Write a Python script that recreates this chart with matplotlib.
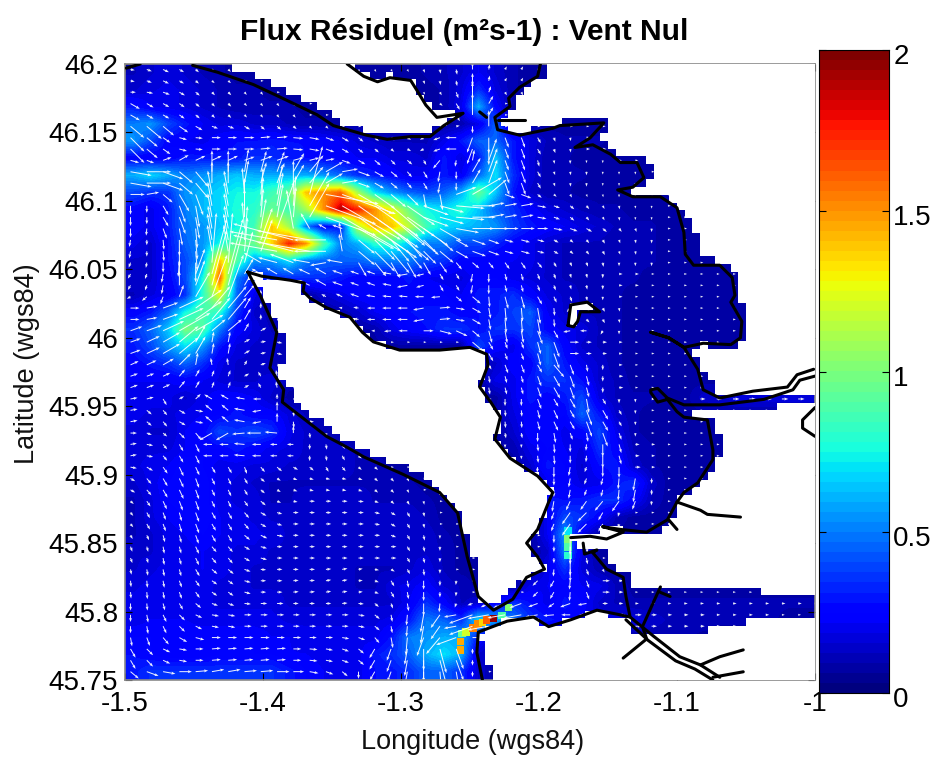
import numpy as np
import matplotlib
matplotlib.use('Agg')
import matplotlib.pyplot as plt
from matplotlib.path import Path
from matplotlib.transforms import ScaledTranslation

plt.rcParams['font.family'] = ['Liberation Sans', 'DejaVu Sans']

# flux on a regular grid, in hundredths, north to south (8 = land, hidden)
FLUX = [
    [12,15,18,15,12,10,8,8,8,8,8,8,8,8,8,8,8,10,12,15,22,15,10,8,8],
    [15,18,20,18,15,12,10,10,8,8,8,8,8,8,8,8,8,8,10,18,35,18,10,8],
    [30,22,20,18,15,12,10,10,10,10,8,8,8,8,8,8,8,8,10,20,60,25,8],
    [50,55,40,30,22,18,18,15,15,12,10,10,8,8,8,8,8,8,8,10,20,45,8],
    [55,40,25,22,20,25,28,28,30,28,28,25,22,18,15,12,12,12,20,30,45,45,30,18,12,10,10,10],
    [25,22,25,30,30,30,30,35,35,30,28,25,25,22,22,18,18,15,30,18,30,65,30,18,10,10],
    [60,68,60,50,55,60,65,60,60,60,60,55,45,35,30,25,20,22,30,22,45,70,35,18,10,10,10],
    [40,35,35,55,62,68,75,75,85,95,140,150,160,110,70,55,45,40,45,60,95,65,30,15,10,10],
    [25,20,30,50,62,68,78,80,95,85,110,150,190,175,150,125,95,75,70,80,65,45,35,25,18,15,12,10,10],
    [25,20,30,48,55,65,75,85,140,110,50,25,30,115,145,140,115,85,70,65,60,55,38,30,25,22,18,15,12,10,10],
    [20,15,28,45,55,75,95,95,135,175,150,90,50,60,80,80,65,50,50,40,40,32,25,20,15,12,12,12,10,10,10],
    [15,15,28,40,55,140,90,55,55,70,50,45,45,45,50,50,50,40,35,25,25,22,22,20,15,12,12,12,10,10,10],
    [15,15,25,40,75,160,50,30,35,35,35,35,30,25,25,25,30,22,20,18,25,25,20,18,15,12,12,12,10,10],
    [12,18,22,35,80,125,45,20,10,10,8,15,20,25,25,25,25,25,25,22,30,30,35,25,18,15,12,10,10],
    [25,30,45,75,90,80,35,15,10,8,8,8,10,15,22,25,28,30,30,25,28,30,38,45,22,15,12,12,10],
    [35,45,65,100,90,50,25,18,12,8,8,8,8,8,10,20,25,28,35,35,28,35,35,40,25,20,18,12,10],
    [30,40,55,70,55,30,18,15,15,10,8,8,8,8,8,8,8,8,8,8,40,25,20,35,45,25,15,12,10],
    [25,30,35,45,35,20,15,15,12,10,8,8,8,8,8,8,8,8,8,8,8,15,25,25,45,30,20,15,10],
    [22,22,22,25,22,18,15,15,18,12,8,8,8,8,8,8,8,8,8,8,8,20,20,30,35,35,28,15,12,8,8,8],
    [20,20,20,15,20,25,25,22,15,8,8,8,8,8,8,8,8,8,8,8,8,8,20,30,25,30,40,18,12,10,10,8,8,14,15,18,18,18,18,18],
    [20,18,18,20,22,25,30,25,25,18,12,8,8,8,8,8,8,8,8,8,8,10,18,25,28,25,45,30,15,10],
    [18,15,15,22,25,40,35,40,35,20,15,12,8,8,8,8,8,8,8,8,8,8,15,25,28,20,25,40,20,10],
    [18,18,18,22,25,25,30,25,20,18,15,15,15,12,8,8,8,8,8,8,8,8,10,20,25,22,18,35,25,12,10],
    [18,20,22,28,25,20,20,18,18,15,15,15,15,12,12,8,8,8,8,8,8,8,8,15,30,25,15,28,30,15,10],
    [15,20,25,28,28,20,18,15,12,12,12,12,12,12,12,12,10,8,8,8,8,8,8,8,20,25,18,20,30,35,15],
    [12,18,25,28,28,20,18,18,12,12,15,15,15,15,12,12,12,10,8,8,8,8,8,8,30,28,30,35,35,25,12],
    [12,18,22,25,28,22,20,18,15,15,15,15,15,15,15,15,15,12,8,8,8,8,8,8,22,40,35,25,12],
    [12,15,20,22,25,22,20,20,18,15,15,15,15,15,15,15,15,15,10,8,8,8,8,8,22,55,20,8],
    [15,15,20,20,22,20,18,18,15,15,15,15,15,15,15,15,15,15,12,8,8,8,8,8,15,50,18,8],
    [15,18,20,20,22,20,18,15,15,15,15,15,15,12,12,12,15,18,12,8,8,8,8,8,20,35,18,10],
    [18,20,20,20,20,18,18,15,15,15,15,15,15,12,12,18,20,25,15,12,8,8,8,20,22,25,22,20,12,8],
    [20,20,20,20,20,18,18,18,18,15,15,15,15,15,15,15,22,35,25,12,15,25,35,28,20,30,25,15,12,10,10,10,10,10,10,10,10,10,10,10],
    [20,22,22,22,20,20,20,20,20,18,18,18,18,18,18,20,30,50,45,35,70,60,50,35,30,25,20,18,18,18,15,12,12,12,10,10,10,10],
    [25,25,25,25,25,25,25,25,22,22,20,20,20,20,20,30,50,55,60,60,30,8,8,8,8,8,8,8,10,10,10,10,10,8],
    [28,25,22,22,22,25,25,25,25,22,22,20,20,20,30,35,45,60,70,60,15],
    [30,35,35,35,35,35,35,35,35,30,25,22,20,20,28,30,35,45,45,35,15],
]

# arrow direction for the same grid, degrees anticlockwise from east
HEADING = [
    [350,340,335,330,320,320,0,0,0,0,0,0,0,300,300,300,300,290,280,280,90,80,60],
    [0,350,340,330,320,315,310,310,0,0,0,0,0,0,0,0,0,300,300,290,90,70,300],
    [330,330,330,325,320,315,315,310,310,310,0,0,0,0,0,0,0,0,320,300,90,60],
    [320,320,320,325,330,340,330,320,320,320,315,315,0,0,0,0,0,0,0,10,270,90],
    [315,320,325,345,355,0,0,5,5,355,350,340,330,320,320,320,330,210,200,180,250,270,290,300,290,280],
    [345,340,20,30,25,25,20,20,20,15,15,10,340,330,320,315,320,300,230,260,80,70,290,285,280,270,270,270],
    [350,0,340,320,310,90,80,75,70,60,50,30,10,340,330,320,310,300,260,270,60,70,290,300,290,280,270,270,270,270],
    [0,10,320,300,290,100,95,85,80,90,75,350,340,330,325,320,315,280,280,20,30,40,340,320,320,300,290,280,270,270],
    [270,270,300,290,280,100,90,85,80,85,60,340,330,325,325,320,325,340,345,355,0,10,10,350,340,320,310,300,280,270,270],
    [270,265,290,280,275,100,95,80,70,100,120,150,160,330,325,320,320,325,330,350,0,0,0,0,350,340,330,320,310,290,270],
    [260,270,275,270,275,100,85,70,170,165,170,180,100,320,315,310,310,315,320,330,340,340,345,345,330,320,310,300,290,280,270],
    [250,260,270,265,270,85,75,150,165,160,170,190,170,300,310,300,300,300,305,310,320,310,305,310,300,295,290,280,270,270,270],
    [240,250,260,90,70,75,60,150,150,150,155,150,160,160,160,170,190,195,300,300,260,270,285,290,290,285,280,270],
    [210,220,250,70,60,70,50,90,0,0,0,150,155,160,170,175,175,180,185,320,320,275,285,300,295,290,280,270],
    [0,10,20,25,35,50,60,90,0,0,0,0,170,170,180,180,180,190,5,350,330,280,275,280,275,230,315,300,280],
    [20,20,25,30,30,40,60,30,0,0,0,0,0,0,180,185,180,0,345,335,320,285,280,290,300,190,180,240,270],
    [20,25,30,40,60,80,30,10,350,0,0,0,0,0,0,0,0,0,0,0,320,300,290,285,290,0,0,0],
    [25,25,30,45,80,100,60,20,345,0,0,0,0,0,0,0,0,0,0,0,0,300,290,300,310,290,280,270],
    [20,20,25,50,60,70,30,120,100,0,0,0,0,0,0,0,0,0,0,0,0,280,285,290,300,290,285,270],
    [10,15,300,30,45,150,170,180,90,0,0,0,0,0,0,0,0,0,0,0,0,0,270,290,300,300,280,300,270,270],
    [10,320,310,330,350,140,170,190,90,275,0,0,0,0,0,0,0,0,0,0,0,0,275,285,295,300,290,300,300,270],
    [0,340,320,315,310,210,185,180,175,90,275,280,0,0,0,0,0,0,0,0,0,0,280,270,280,290,280,290,290,270],
    [10,350,310,300,295,180,175,180,180,180,270,280,300,320,0,0,0,0,0,0,0,0,270,275,275,270,265,270,285],
    [350,330,305,295,295,300,290,310,320,330,320,300,310,320,320,0,0,0,0,0,0,0,0,265,270,260,250,270,270],
    [330,310,300,295,290,295,300,320,330,340,345,350,350,340,320,315,300,0,0,0,0,0,0,0,270,260,250,255,265,260,270],
    [320,305,295,290,290,295,305,320,340,350,0,0,0,355,340,320,300,280,0,0,0,0,0,0,260,245,235,230,235,250,265],
    [310,300,290,285,290,300,310,330,345,0,0,0,0,0,350,330,300,280,0,0,0,0,0,0,250,235,225,240,255],
    [300,295,285,285,290,300,320,335,350,0,0,0,0,0,0,340,300,280,270,0,0,0,0,0,270,270,265],
    [290,285,280,285,295,310,330,345,0,0,0,0,0,0,0,0,300,280,270,0,0,0,0,0,270,270,280],
    [280,280,280,285,300,320,340,355,0,0,0,5,10,10,350,330,300,275,270,0,0,0,0,0,265,270,290,300],
    [275,275,280,290,305,325,345,0,0,5,5,10,10,5,340,300,280,270,270,265,0,0,0,225,240,265,290],
    [270,275,285,300,320,340,355,0,0,0,0,0,5,355,320,290,280,270,265,250,200,205,200,200,215,200,190],
    [270,280,295,315,335,350,0,0,0,0,0,0,0,350,320,280,265,260,235,190,200,190,190,190,185,180,180],
    [280,290,310,330,345,0,0,0,0,0,0,0,350,340,310,280,265,250,230,200],
    [300,315,335,350,0,5,5,5,5,0,355,350,340,320,240,250,260,270,285,290,270],
    [320,340,350,0,5,10,5,5,0,0,350,340,320,270,240,250,260,270,275,280,270],
]

# narrow hot cells in the straits
HOT_LON = [-1.257, -1.257, -1.256, -1.253, -1.248, -1.244, -1.241, -1.238, -1.233, -1.227, -1.222, -1.179, -1.179, -1.179, -1.179]
HOT_LAT = [45.772, 45.778, 45.784, 45.785, 45.788, 45.791, 45.792, 45.794, 45.795, 45.797, 45.803, 45.859, 45.853, 45.847, 45.841]
HOT_FLUX = [1.45, 1.45, 0.95, 1.2, 1.55, 1.5, 1.35, 1.6, 1.95, 0.9, 1.0, 0.7, 1.0, 0.9, 0.8]

# land outlines, stepped a little away from the coast
RE_LAND_LON = [-1.433,-1.424,-1.402,-1.373,-1.355,-1.340,-1.325,-1.308,-1.293,-1.279,-1.269,-1.255,-1.274,-1.282,-1.288,-1.293,-1.308,-1.317,-1.327,-1.337]
RE_LAND_LAT = [46.201,46.197,46.190,46.174,46.166,46.155,46.152,46.148,46.150,46.150,46.158,46.166,46.164,46.172,46.181,46.188,46.192,46.190,46.194,46.201]
NE_LAND_LON = [-1.193,-1.193,-1.204,-1.217,-1.219,-1.230,-1.228,-1.214,-1.185,-1.161,-1.146,-1.156,-1.146,-1.127,-1.119,-1.119,-1.132,-1.110,-1.093,-1.088,-1.083,-1.069,-1.054,-1.053,-1.049,-1.049,-1.061,-1.081,-1.090,-1.083,-1.076,-1.069,-0.999,-0.999]
NE_LAND_LAT = [46.201,46.194,46.187,46.178,46.167,46.159,46.153,46.150,46.158,46.161,46.157,46.144,46.136,46.132,46.125,46.114,46.107,46.105,46.090,46.081,46.061,46.056,46.042,46.027,46.015,46.0,45.993,45.995,45.991,45.978,45.969,45.956,45.956,46.201]
MID_LAND_LON = [-0.999,-1.098,-1.098,-1.072,-1.069,-1.069,-1.085,-1.100,-1.103,-1.119,-1.141,-1.154,-1.152,-1.163,-1.177,-1.170,-1.167,-1.156,-1.150,-1.145,-1.135,-1.135,-1.037,-1.037,-1.022,-1.022,-0.999]
MID_LAND_LAT = [45.950,45.949,45.946,45.940,45.926,45.911,45.894,45.880,45.867,45.856,45.860,45.862,45.856,45.855,45.854,45.849,45.842,45.848,45.839,45.829,45.826,45.816,45.816,45.812,45.812,45.810,45.810]
SOUTH_LAND_LON = [-0.999,-1.048,-1.048,-1.080,-1.080,-1.135,-1.135,-1.158,-1.177,-1.193,-1.204,-1.223,-1.244,-1.240,-1.235,-1.235,-0.999]
SOUTH_LAND_LAT = [45.794,45.794,45.789,45.789,45.783,45.783,45.794,45.801,45.794,45.789,45.796,45.793,45.785,45.772,45.760,45.749,45.749]
OLERON_WEST_LON = [-1.411,-1.404,-1.395,-1.383,-1.388,-1.375,-1.344,-1.315,-1.291,-1.259,-1.245,-1.243,-1.233,-1.223]
OLERON_WEST_LAT = [46.048,46.039,46.019,45.995,45.973,45.953,45.926,45.911,45.904,45.877,45.833,45.809,45.807,45.814]

# coast lines
OLERON_LON = [-1.411,-1.402,-1.390,-1.395,-1.385,-1.386,-1.354,-1.339,-1.327,-1.298,-1.272,-1.259,-1.252,-1.244,-1.233,-1.219,-1.209,-1.196,-1.201,-1.209,-1.201,-1.193,-1.190,-1.201,-1.221,-1.232,-1.228,-1.235,-1.243,-1.237,-1.238,-1.250,-1.272,-1.301,-1.320,-1.328,-1.337,-1.354,-1.366,-1.371,-1.370,-1.380,-1.401,-1.411]
OLERON_LAT = [46.048,46.031,46.004,45.978,45.962,45.953,45.928,45.920,45.913,45.900,45.887,45.872,45.840,45.811,45.801,45.809,45.825,45.831,45.840,45.850,45.860,45.880,45.887,45.899,45.912,45.926,45.942,45.953,45.964,45.980,45.988,45.993,45.991,45.991,45.997,46.004,46.015,46.022,46.029,46.034,46.040,46.042,46.045,46.048]
RE_LON = [-1.451,-1.433,-1.407,-1.388,-1.361,-1.349,-1.325,-1.310,-1.293,-1.279,-1.269,-1.255,-1.274,-1.282,-1.288,-1.293,-1.308,-1.317,-1.327,-1.339]
RE_LAT = [46.199,46.194,46.185,46.176,46.163,46.155,46.148,46.145,46.147,46.147,46.155,46.164,46.161,46.170,46.180,46.188,46.190,46.187,46.191,46.2]
NORTH_LON = [-1.199,-1.201,-1.214,-1.222,-1.221,-1.232,-1.230,-1.214,-1.190,-1.185,-1.153,-1.163,-1.174,-1.161,-1.148,-1.141,-1.129,-1.124,-1.132,-1.143,-1.132,-1.112,-1.100,-1.095,-1.094,-1.088,-1.069,-1.060,-1.058,-1.061,-1.053,-1.054,-1.061,-1.081,-1.095,-1.106,-1.119,-1.106,-1.095,-1.085,-1.081,-1.069,-1.045,-1.020,-1.013,-1.001]
NORTH_LAT = [46.2,46.191,46.183,46.175,46.169,46.161,46.152,46.148,46.153,46.155,46.157,46.146,46.139,46.141,46.134,46.128,46.128,46.117,46.110,46.108,46.103,46.103,46.095,46.077,46.061,46.053,46.053,46.044,46.031,46.026,46.012,46.0,45.995,45.996,45.993,46.0,46.004,46.0,45.993,45.977,45.962,45.956,45.961,45.964,45.973,45.977]
RIVER_LON = [-1.0,-1.011,-1.016,-1.037,-1.069,-1.095,-1.107,-1.114,-1.119,-1.119,-1.114,-1.107,-1.100,-1.095,-1.078,-1.074,-1.074,-1.085,-1.095,-1.100,-1.107,-1.122,-1.141,-1.154,-1.139,-1.151,-1.163,-1.177]
RIVER_LAT = [45.972,45.969,45.962,45.955,45.951,45.951,45.956,45.963,45.962,45.960,45.953,45.955,45.946,45.942,45.940,45.918,45.911,45.894,45.887,45.880,45.867,45.858,45.860,45.862,45.858,45.853,45.855,45.854]
SEUDRE_LON = [-1.168,-1.167,-1.158,-1.161,-1.151,-1.139,-1.137,-1.134,-1.117,-1.098,-1.083,-1.069]
SEUDRE_LAT = [45.850,45.842,45.845,45.843,45.831,45.825,45.811,45.796,45.782,45.767,45.761,45.752]
SOUTH_LON = [-1.241,-1.245,-1.244,-1.223,-1.204,-1.193,-1.177,-1.158,-1.143,-1.134]
SOUTH_LAT = [45.750,45.770,45.785,45.793,45.796,45.789,45.794,45.801,45.798,45.796]
ISLAND_LON = [-1.179,-1.177,-1.165,-1.156,-1.170,-1.172,-1.175,-1.179]
ISLAND_LAT = [46.009,46.024,46.026,46.019,46.019,46.012,46.008,46.009]
SMALL_LINES = [
    ([-1.499,-1.489], [46.197,46.2]),
    ([-1.243,-1.238], [46.165,46.161]),
    ([-1.230,-1.210], [46.159,46.159]),
    ([-1.100,-1.083,-1.078,-1.054], [45.880,45.874,45.871,45.869]),
    ([-1.106,-1.100], [45.867,45.860]),
    ([-1.137,-1.121,-1.101,-1.087,-1.074], [45.794,45.779,45.764,45.758,45.750]),
    ([-1.112,-1.117,-1.125,-1.122,-1.139], [45.818,45.807,45.789,45.780,45.766]),
    ([-1.112,-1.105], [45.814,45.811]),
    ([-1.083,-1.069,-1.052], [45.761,45.767,45.772]),
    ([-1.074,-1.052], [45.752,45.756]),
    ([-1.0,-1.009,-1.009,-1.0], [45.949,45.940,45.934,45.928]),
]

LON_TICKS = [-1.5, -1.4, -1.3, -1.2, -1.1, -1]
LAT_TICKS = [45.75, 45.8, 45.85, 45.9, 45.95, 46, 46.05, 46.1, 46.15, 46.2]
BAR_TICKS = [0, 0.5, 1, 1.5, 2]

W, H = 936, 763
LON_MIN, LON_MAX, LAT_MIN, LAT_MAX = -1.5, -1.0, 45.75, 46.2
n_cols = 40


def pad(rows, fill):
    return np.array([r + [fill] * (n_cols - len(r)) for r in rows], dtype=float)


flux = pad(FLUX, 8) / 100
heading = np.radians(pad(HEADING, 0))
n_rows = flux.shape[0]
jet = plt.get_cmap('jet', 64)

fig = plt.figure(figsize=(W / 100, H / 100), dpi=100)
ax = fig.add_axes([125 / W, 1 - 680 / H, 690 / W, 616 / H])
ax.imshow(flux, cmap=jet, vmin=0, vmax=2, extent=[LON_MIN, LON_MAX, LAT_MIN, LAT_MAX],
          aspect='auto', interpolation='bilinear', zorder=1)
ax.scatter(HOT_LON, HOT_LAT, c=HOT_FLUX, cmap=jet, vmin=0, vmax=2, marker='s', s=30,
           linewidths=0, zorder=1.5)

# arrow lattice is finer in latitude than the grid, each arrow reads its nearest cell
arrow_lon = np.arange(LON_MIN + 0.004, LON_MAX, 0.0118)
arrow_lat = np.arange(LAT_MAX - 0.004, LAT_MIN, -0.0083)
lon2, lat2 = np.meshgrid(arrow_lon, arrow_lat)
col = ((lon2 - LON_MIN) / (LON_MAX - LON_MIN) * n_cols).astype(int)
row = ((LAT_MAX - lat2) / (LAT_MAX - LAT_MIN) * n_rows).astype(int)
arrow_flux = flux[row, col]
ax.quiver(lon2, lat2, arrow_flux * np.cos(heading[row, col]), arrow_flux * np.sin(heading[row, col]),
          color='white', alpha=0.92, angles='uv', scale_units='dots', scale=0.028, units='dots',
          width=1.0, headwidth=3, headlength=4, headaxislength=3.5, zorder=2)

# land is white, on the stepped cells of the model grid
land_x = LON_MIN + (LON_MAX - LON_MIN) / 90 * (np.arange(90) + 0.5)
land_y = LAT_MAX - (LAT_MAX - LAT_MIN) / 80 * (np.arange(80) + 0.5)
cells = np.column_stack([a.ravel() for a in np.meshgrid(land_x, land_y)])
land = np.zeros(len(cells), dtype=bool)
outlines = [
    (RE_LAND_LON, RE_LAND_LAT),
    (NE_LAND_LON, NE_LAND_LAT),
    (MID_LAND_LON, MID_LAND_LAT),
    (SOUTH_LAND_LON, SOUTH_LAND_LAT),
    (OLERON_WEST_LON + OLERON_LON[16:], OLERON_WEST_LAT + OLERON_LAT[16:]),
    (ISLAND_LON, ISLAND_LAT),
]
for xs, ys in outlines:
    land |= Path(np.column_stack([xs, ys])).contains_points(cells)
mask = np.ones((80, 90, 4))
mask[..., 3] = land.reshape(80, 90)
ax.imshow(mask, extent=[LON_MIN, LON_MAX, LAT_MIN, LAT_MAX], aspect='auto',
          interpolation='nearest', zorder=3)

for xs, ys in [(OLERON_LON, OLERON_LAT), (RE_LON, RE_LAT), (NORTH_LON, NORTH_LAT),
               (RIVER_LON, RIVER_LAT), (SEUDRE_LON, SEUDRE_LAT), (SOUTH_LON, SOUTH_LAT),
               (ISLAND_LON, ISLAND_LAT)] + SMALL_LINES:
    ax.plot(xs, ys, color='black', lw=2.2, solid_capstyle='round', zorder=4)

ax.set_xlim(LON_MIN, LON_MAX)
ax.set_ylim(LAT_MIN, LAT_MAX)
ax.set_xticks(LON_TICKS)
ax.set_xticklabels(['-1.5', '-1.4', '-1.3', '-1.2', '-1.1', '-1'])
ax.set_yticks(LAT_TICKS)
ax.set_yticklabels(['45.75', '45.8', '45.85', '45.9', '45.95', '46', '46.05', '46.1', '46.15', '46.2'])
ax.tick_params(direction='in', top=True, right=True, length=5, width=0.8, labelsize=20, pad=5)
ax.tick_params(axis='x', pad=8)
for s in ax.spines.values():
    s.set_color('#8a8a8a')
    s.set_linewidth(1.2)
ax.set_xlabel('Longitude (wgs84)', fontsize=19.5, color='#111111', va='center')
ax.set_ylabel('Latitude (wgs84)', fontsize=19.5, color='#111111', va='center')
ax.xaxis.set_label_coords(0.503, -0.1)
ax.yaxis.set_label_coords(-0.142, 0.513)
fig.text(464 / W, 1 - 32 / H, 'Flux Résiduel (m²s-1) : Vent Nul', fontsize=21.5, fontweight='bold',
         ha='center', va='center')

cax = fig.add_axes([819 / W, 1 - 693 / H, 70 / W, 643 / H])
cax.imshow(np.arange(64)[::-1].reshape(-1, 1), cmap=jet, extent=[0, 1, 0, 2], aspect='auto',
           interpolation='nearest')
cax.set_xticks([])
cax.set_yticks(BAR_TICKS)
cax.set_yticklabels(['0', '0.5', '1', '1.5', '2'])
cax.yaxis.tick_right()
cax.tick_params(direction='in', left=True, right=True, length=5, width=0.8, labelsize=20, pad=3)
shift = ScaledTranslation(0, -3 / 72, fig.dpi_scale_trans)
for t in cax.get_yticklabels():
    t.set_transform(t.get_transform() + shift)

fig.savefig('out.png', dpi=100)
